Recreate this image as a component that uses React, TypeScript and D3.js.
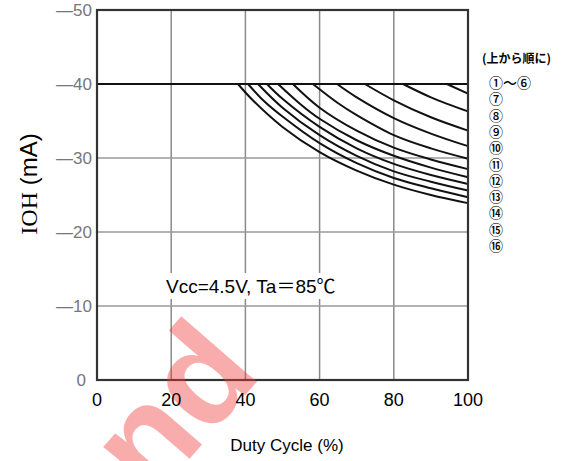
import React from 'react';
import * as d3 from 'd3';

// Duty cycle (%) vs IOH (mA)
const xTicks = [0, 20, 40, 60, 80, 100];
const yTicks = [0, -10, -20, -30, -40, -50];
const flatLine: [number, number][] = [[0, -40], [100, -40]]; // ①～⑥

// derating curves, bottom to top: [duty, IOH]
const curves: [number, number][][] = [
    [[38, -40], [42, -37.8], [50, -34.2], [60, -30.8], [70, -28.3], [80, -26.4], [90, -25], [100, -23.9]],
    [[40.7, -40], [45, -37.7], [50, -35.6], [60, -32], [70, -29.3], [80, -27.3], [90, -25.9], [100, -24.7]],
    [[43.4, -40], [50, -36.8], [60, -33.1], [70, -30.3], [80, -28.2], [90, -26.8], [100, -25.6]],
    [[45.8, -40], [50, -38], [60, -34.2], [70, -31.3], [80, -29.2], [90, -27.7], [100, -26.5]],
    [[48.8, -40], [55, -37.2], [60, -35.3], [70, -32.4], [80, -30.3], [90, -28.7], [100, -27.4]],
    [[52.8, -40], [60, -36.8], [70, -33.7], [80, -31.4], [90, -29.8], [100, -28.5]],
    [[58.2, -40], [65, -37.4], [70, -35.8], [80, -33.1], [90, -31.3], [100, -29.9]],
    [[64.7, -40], [70, -38.2], [80, -35.4], [90, -33.3], [100, -31.6]],
    [[72.2, -40], [80, -37.8], [90, -35.5], [100, -33.7]],
    [[82.5, -40], [90, -38.2], [100, -36.3]],
    [[94.3, -40], [100, -38.7]],
];

const legendLabels = ['①～⑥', '⑦', '⑧', '⑨', '⑩', '⑪', '⑫', '⑬', '⑭', '⑮', '⑯'];

const W = 576;
const H = 461;

export default function App() {
    const x = d3.scaleLinear().domain([0, 100]).range([97, 468]);
    const y = d3.scaleLinear().domain([0, -50]).range([380, 10]);
    const line = d3
        .line<[number, number]>()
        .x((d) => x(d[0]))
        .y((d) => y(d[1]))
        .curve(d3.curveCatmullRom.alpha(0.5));

    const sans = '"Liberation Sans", Arial, sans-serif';
    const cjk = '"Noto Sans CJK JP", sans-serif';

    return (
        <svg
            width={W}
            height={H}
            viewBox={`0 0 ${W} ${H}`}
            style={{ position: 'absolute', left: 0, top: 0, background: '#fff' }}
        >
            {/* grid */}
            {xTicks.slice(1, -1).map((t) => (
                <line key={'gx' + t} x1={x(t)} x2={x(t)} y1={y(-50)} y2={y(0)} stroke="#8a8a8a" strokeWidth={1.5} />
            ))}
            {yTicks.slice(1, -1).map((t) => (
                <line key={'gy' + t} x1={x(0)} x2={x(100)} y1={y(t)} y2={y(t)} stroke="#9a9a9a" strokeWidth={1.5} />
            ))}

            {/* condition label */}
            <rect x={160} y={273} width={204} height={26} fill="#fff" />
            <text x={166} y={293} fontFamily={sans} fontSize={19} fill="#000">
                Vcc=4.5V, Ta<tspan fontFamily={cjk}>＝</tspan>85<tspan fontFamily={cjk}>℃</tspan>
            </text>

            {/* curves */}
            <path d={line(flatLine) ?? ''} fill="none" stroke="#111" strokeWidth={2.2} />
            {curves.map((c, i) => (
                <path key={i} d={line(c) ?? ''} fill="none" stroke="#111" strokeWidth={2} />
            ))}

            {/* frame */}
            <rect
                x={x(0)}
                y={y(-50)}
                width={x(100) - x(0)}
                height={y(0) - y(-50)}
                fill="none"
                stroke="#333"
                strokeWidth={2.2}
            />

            {/* watermark */}
            <text
                transform="translate(180,470) rotate(-49)"
                textAnchor="middle"
                fontFamily={sans}
                fontWeight={700}
                fontSize={138}
                fill="rgb(240,60,60)"
                opacity={0.42}
            >
                ond
            </text>

            {/* y tick labels */}
            {yTicks.map((t) => (
                <text
                    key={'ty' + t}
                    x={t === 0 ? 86 : 92}
                    y={y(t) + 6}
                    textAnchor="end"
                    fontFamily={'"Liberation Sans Narrow", ' + sans}
                    fontSize={17}
                    fill="#777"
                >
                    {t === 0 ? '0' : '—' + Math.abs(t)}
                </text>
            ))}

            {/* x tick labels */}
            {xTicks.map((t) => (
                <text key={'tx' + t} x={x(t)} y={406} textAnchor="middle" fontFamily={sans} fontSize={18} fill="#000">
                    {t}
                </text>
            ))}

            {/* axis titles */}
            <text x={287} y={451} textAnchor="middle" fontFamily={sans} fontSize={17} fill="#000">
                Duty Cycle (%)
            </text>
            <text transform="translate(37,184) rotate(-90)" textAnchor="middle" fontSize={24} fill="#000">
                <tspan fontFamily='"Liberation Serif", serif'>IOH</tspan>
                <tspan fontFamily={sans}> (mA)</tspan>
            </text>

            {/* legend */}
            <text x={482} y={63} fontFamily={cjk} fontSize={12} fontWeight={700} fill="#000">
                (上から順に)
            </text>
            {legendLabels.map((l, i) => (
                <text key={l} x={489} y={88 + i * 16.3} fontFamily={cjk} fontSize={14} fontWeight={500} fill="#000">
                    {l}
                </text>
            ))}
        </svg>
    );
}
